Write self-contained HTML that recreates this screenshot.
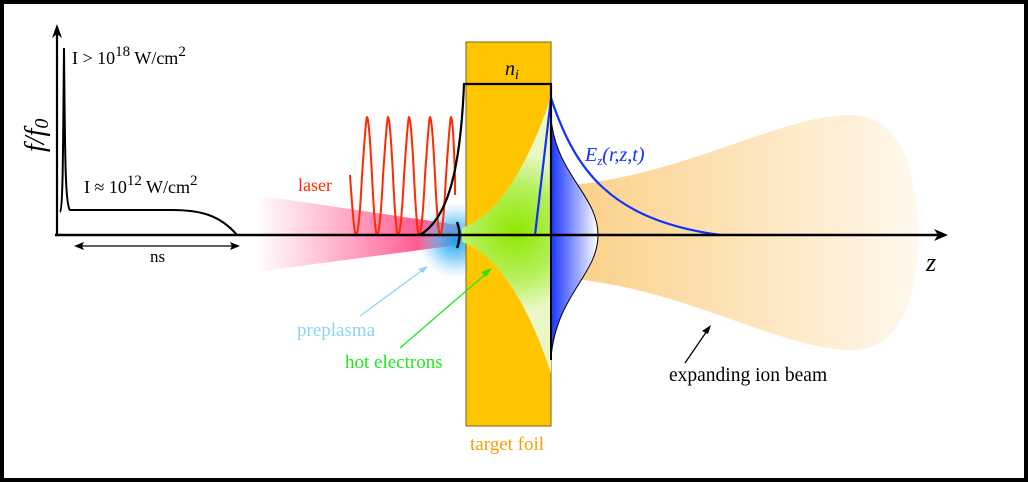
<!DOCTYPE html>
<html><head><meta charset="utf-8"><style>
html,body{margin:0;padding:0;background:#000;}
svg{display:block;}
text{font-family:"Liberation Serif",serif;}
</style></head><body>
<svg width="1028" height="482" viewBox="0 0 1028 482" xmlns="http://www.w3.org/2000/svg">
<defs>
<linearGradient id="las" x1="255" y1="0" x2="460" y2="0" gradientUnits="userSpaceOnUse">
<stop offset="0" stop-color="#ff4f8a" stop-opacity="0"/><stop offset="1" stop-color="#ff2b6e"/></linearGradient>
<radialGradient id="pre" cx="455" cy="240" r="38" gradientUnits="userSpaceOnUse">
<stop offset="0" stop-color="#1aa0f0"/><stop offset="0.5" stop-color="#60c0f5" stop-opacity="0.7"/><stop offset="1" stop-color="#a0d8ff" stop-opacity="0"/></radialGradient>
<radialGradient id="grn" cx="515" cy="232" r="80" gradientUnits="userSpaceOnUse">
<stop offset="0" stop-color="#8ee800"/><stop offset="0.6" stop-color="#b8f060"/><stop offset="1" stop-color="#eaf8c8"/></radialGradient>
<linearGradient id="ion" x1="590" y1="0" x2="915" y2="0" gradientUnits="userSpaceOnUse">
<stop offset="0" stop-color="#fbd28c"/><stop offset="1" stop-color="#fff8ec"/></linearGradient>
<linearGradient id="gau" x1="551" y1="0" x2="598" y2="0" gradientUnits="userSpaceOnUse">
<stop offset="0" stop-color="#1a35ff"/><stop offset="1" stop-color="#ffffff"/></linearGradient>
</defs>
<rect x="4" y="4" width="1020" height="474" fill="#fff"/>
<path d="M560 186 C680 178 780 115 850 115 C900 115 918 170 918 235 C918 300 900 350 850 350 C780 350 680 285 560 278 Z" fill="url(#ion)"/>
<path d="M255 195 L458 225 L458 245 L255 272 Z" fill="url(#las)"/>
<circle cx="455" cy="240" r="38" fill="url(#pre)"/>
<rect x="466" y="42" width="85" height="384" fill="#ffc600" stroke="#7a6020" stroke-width="1"/>
<path d="M462 228 C500 215 530 160 551 97 L551 373 C530 310 500 255 462 242 Z" fill="url(#grn)"/>
<path d="M551 118 C556 175 598 195 598 235 C598 275 556 295 551 358 Z" fill="url(#gau)"/>
<path d="M551 118 C556 175 598 195 598 235 C598 275 556 295 551 358" fill="none" stroke="#000" stroke-width="1"/>
<path d="M350 175 Q354 235 356 235 Q359 235 362 176 Q366 117 367 117 Q369 117 372 176 Q375 235 377 235 Q380 235 383 176 Q387 117 388 117 Q390 117 393 176 Q396 235 398 235 Q401 235 404 176 Q408 117 409 117 Q411 117 414 176 Q417 235 419 235 Q422 235 425 176 Q429 117 430 117 Q432 117 435 176 Q438 235 440 235 Q443 235 446 176 Q450 117 451 117 Q453 117 455 176 L455 195" fill="none" stroke="#ff2a00" stroke-width="2"/>
<path d="M420 235 C445 220 460 180 464 84 L551 84 L551 235" fill="none" stroke="#000" stroke-width="2.2"/>
<path d="M457 222 Q462 235 457 248" fill="none" stroke="#000" stroke-width="2.5"/>
<path d="M535 235 L551 98 C575 170 610 220 720 235" fill="none" stroke="#1030ff" stroke-width="2.2"/>
<line x1="551" y1="84" x2="551" y2="360" stroke="#000" stroke-width="2"/>
<line x1="55" y1="235" x2="940" y2="235" stroke="#000" stroke-width="2.5"/>
<path d="M948 235 L934 229 L938 235 L934 241 Z" fill="#000"/>
<line x1="57" y1="236" x2="57" y2="32" stroke="#000" stroke-width="2.2"/>
<path d="M57 24 L52 38 L57 34 L62 38 Z" fill="#000"/>
<path d="M60 212 C63 210 63 150 64 48 C65 150 65 205 70 210 L172 210 C200 210 220 215 237 235" fill="none" stroke="#000" stroke-width="2"/>
<line x1="78" y1="246" x2="236" y2="246" stroke="#000" stroke-width="1.2"/>
<path d="M74 246 L84 242 L82 246 L84 250 Z M240 246 L230 242 L232 246 L230 250 Z" fill="#000"/>
<line x1="360" y1="316" x2="424" y2="269" stroke="#8fd3f5" stroke-width="1.3"/>
<path d="M428 266 L418 269 L423 273 Z" fill="#8fd3f5"/>
<line x1="400" y1="348" x2="488" y2="272" stroke="#1ee81e" stroke-width="1.3"/>
<path d="M492 268 L481 272 L486 277 Z" fill="#1ee81e"/>
<line x1="685" y1="363" x2="709" y2="328" stroke="#000" stroke-width="1.3"/>
<path d="M711 325 L702 331 L708 334 Z" fill="#000"/>
<text x="72" y="64" font-size="18">I &gt; 10<tspan dy="-8" font-size="15">18</tspan><tspan dy="8"> W/cm</tspan><tspan dy="-8" font-size="15">2</tspan></text>
<text x="84" y="193" font-size="18">I ≈ 10<tspan dy="-8" font-size="15">12</tspan><tspan dy="8"> W/cm</tspan><tspan dy="-8" font-size="15">2</tspan></text>
<text x="150" y="262" font-size="17">ns</text>
<text transform="translate(44,152) rotate(-90)" font-size="28" font-style="italic">f/f<tspan font-size="20" dy="4">0</tspan></text>
<text x="298" y="191" font-size="18" fill="#ff2a00">laser</text>
<text x="297" y="336" font-size="19" fill="#8fd3f5">preplasma</text>
<text x="345" y="368" font-size="19" fill="#1ee81e">hot electrons</text>
<text x="470" y="450" font-size="19" fill="#f5a000">target foil</text>
<text x="669" y="381" font-size="19.5">expanding ion beam</text>
<text x="505" y="75" font-size="20" font-style="italic">n<tspan font-size="14" dy="4">i</tspan></text>
<text x="585" y="161" font-size="20" font-style="italic" fill="#1030ff">E<tspan font-size="13" dy="4">z</tspan><tspan dy="-4">(r,z,t)</tspan></text>
<text x="926" y="271" font-size="26" font-style="italic">z</text>
</svg>
</body></html>
